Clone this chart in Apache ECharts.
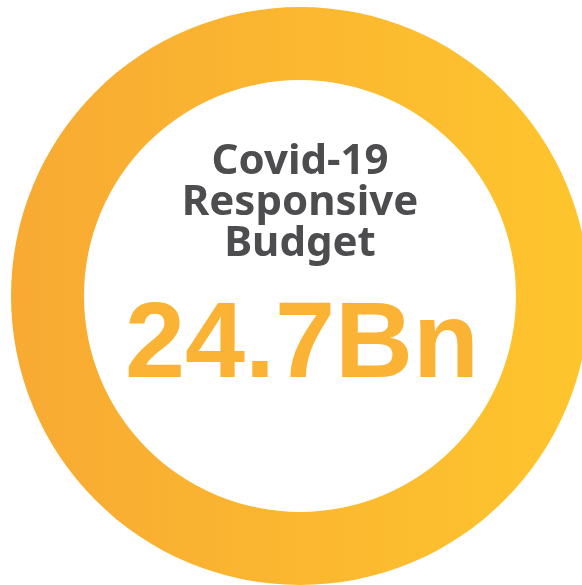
<!DOCTYPE html>
<html>
<head>
<meta charset="utf-8">
<script src="https://cdn.jsdelivr.net/npm/echarts@6/dist/echarts.min.js"></script>
<style>
  html, body { margin: 0; padding: 0; background: #fff; }
  #chart1 { width: 582px; height: 585px; }
</style>
</head>
<body>
<div id="chart1"></div>
<script>
var myChart1;
const titleLines = ['Covid-19', 'Responsive', 'Budget'];
const budgetValue = [24.7];
const budgetUnit = ['Bn'];
const ringColors = ['#F8AA33', '#FEC52D'];

var chartDom = document.getElementById('chart1');
myChart1 = echarts.init(chartDom);

var textItems = [];
var lineY = [162, 203, 244];
for (var i = 0; i < titleLines.length; i++) {
    textItems.push({
        type: 'text',
        x: 300,
        y: lineY[i],
        style: {
            text: titleLines[i],
            fill: '#4D4D4F',
            font: 'bold 42px "Noto Sans"',
            align: 'center',
            verticalAlign: 'middle'
        }
    });
}
textItems.push({
    type: 'text',
    x: 302,
    y: 347,
    style: {
        text: budgetValue[0] + budgetUnit[0],
        fill: '#FBB335',
        font: 'bold 108px "Liberation Sans"',
        align: 'center',
        verticalAlign: 'middle'
    }
});

var option = {
    animation: false,
    series: [
        {
            type: 'pie',
            center: [300, 296],
            radius: [216, 289],
            silent: true,
            label: { show: false },
            labelLine: { show: false },
            itemStyle: {
                color: new echarts.graphic.LinearGradient(0, 0, 1, 0, [
                    { offset: 0, color: ringColors[0] },
                    { offset: 1, color: ringColors[1] }
                ])
            },
            data: [{ value: budgetValue[0], name: 'Covid-19 Responsive Budget' }]
        }
    ],
    graphic: textItems
};
myChart1.setOption(option);
</script>
</body>
</html>
